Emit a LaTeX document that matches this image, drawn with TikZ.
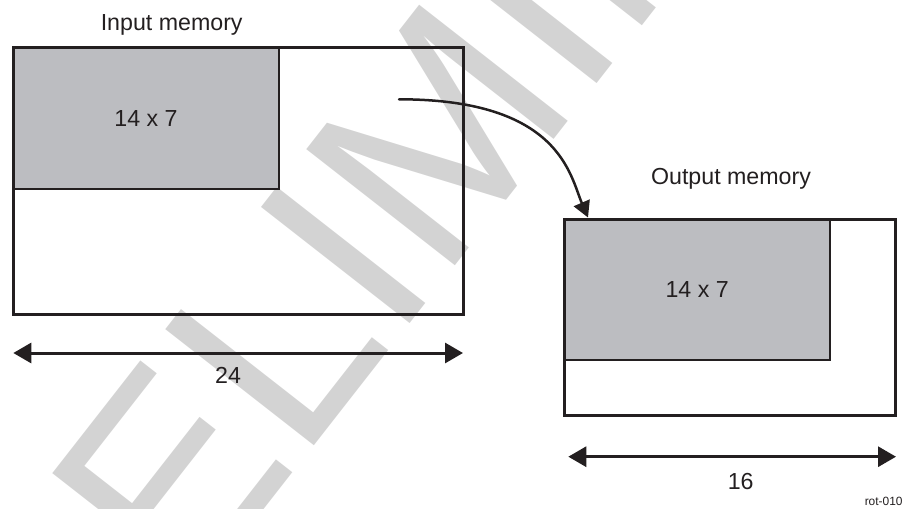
\documentclass[tikz,border=0pt]{standalone}
\usepackage{fontspec}
\setmainfont{Liberation Sans}
\usetikzlibrary{positioning,arrows.meta}
\definecolor{inkblack}{RGB}{35,31,32}
\definecolor{blockgray}{RGB}{188,189,193}
\definecolor{markgray}{RGB}{211,211,211}

\begin{document}
\begin{tikzpicture}[font=\fontsize{6.6}{8}\selectfont, inkblack,
  membox/.style={draw=inkblack,line width=0.03cm,anchor=north west,inner sep=0pt,outer sep=0pt},
  blockbox/.style={draw=inkblack,fill=blockgray,line width=0.02cm,anchor=north west,inner sep=0pt,outer sep=0pt},
  dimline/.style={line width=0.03cm,{Triangle[length=1.8mm,width=2mm]}-{Triangle[length=1.8mm,width=2mm]}},
  moveline/.style={line width=0.025cm,line cap=round,-{Triangle[length=1.6mm,width=1.7mm]}},
  lbl/.style={text=inkblack,anchor=base,inner sep=0pt}]
\useasboundingbox (0,0) rectangle (9.04,-5.08);
\clip (0,0) rectangle (9.04,-5.08);
% watermark behind everything
\node[markgray,font=\fontsize{78}{78}\selectfont,rotate=52,anchor=base west,inner sep=0pt] (wm) at (-0.47,-9.08) {PRELIMINARY};
% input memory
\node[blockbox,minimum width=2.65cm,minimum height=1.41cm] (inblock) at (0.135,-0.477) {14 x 7};
\node[membox,minimum width=4.495cm,minimum height=2.671cm] (inbox) at (inblock.north west) {};
\node[lbl] (inlabel) at (1.717,-0.31) {Input memory};
% output memory
\node[blockbox,minimum width=2.657cm,minimum height=1.41cm] (outblock) at (5.643,-2.19) {14 x 7};
\node[membox,minimum width=3.314cm,minimum height=1.96cm] (outbox) at (outblock.north west) {};
\node[lbl] (outlabel) at (7.31,-1.843) {Output memory};
% widths
\coordinate (inL) at (0.133,-3.53);
\coordinate (inR) at (4.63,-3.53);
\coordinate (outL) at (5.683,-4.567);
\coordinate (outR) at (8.96,-4.567);
\draw[dimline] (inL) -- (inR);
\draw[dimline] (outL) -- (outR);
\node[lbl] (inwidth) at (2.28,-3.833) {24};
\node[lbl] (outwidth) at (7.407,-4.89) {16};
% move arrow
\coordinate (movestart) at (3.99,-0.993);
\coordinate (movetip) at (5.88,-2.175);
\draw[moveline] (movestart) .. controls +(1.61,0) and +(-0.18,0.42) .. (movetip);
\node[lbl,anchor=base east,font=\fontsize{3.4}{4}\selectfont] (figid) at (9.033,-5.057) {rot-010};
\end{tikzpicture}
\end{document}
